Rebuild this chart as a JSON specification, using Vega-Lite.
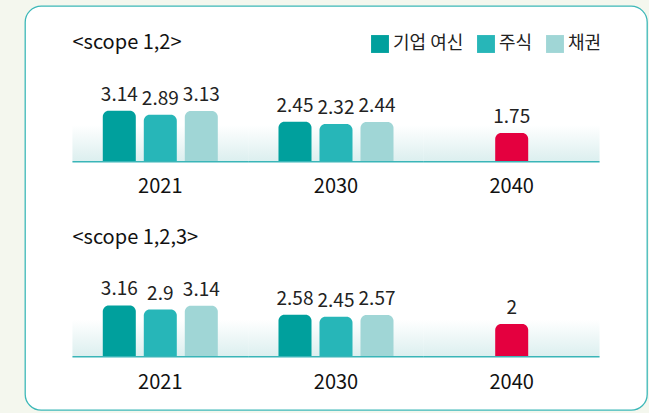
{
  "$schema": "https://vega.github.io/schema/vega-lite/v6.json",
  "width": 622,
  "height": 404,
  "autosize": {"type": "none"},
  "padding": {"left": 25, "top": 6, "right": 2, "bottom": 3},
  "background": "#f4f7ee",
  "config": {
    "view": {"fill": "white", "stroke": "#3db8b8", "strokeWidth": 1.3, "cornerRadius": 16},
    "font": "Noto Sans CJK KR",
    "text": {"font": "Noto Sans CJK KR"}
  },
  "datasets": {
    "s12": [
      {"year": "2021", "series": "기업 여신", "value": 3.14},
      {"year": "2021", "series": "주식", "value": 2.89},
      {"year": "2021", "series": "채권", "value": 3.13},
      {"year": "2030", "series": "기업 여신", "value": 2.45},
      {"year": "2030", "series": "주식", "value": 2.32},
      {"year": "2030", "series": "채권", "value": 2.44},
      {"year": "2040", "series": "목표", "value": 1.75}
    ],
    "s123": [
      {"year": "2021", "series": "기업 여신", "value": 3.16},
      {"year": "2021", "series": "주식", "value": 2.9},
      {"year": "2021", "series": "채권", "value": 3.14},
      {"year": "2030", "series": "기업 여신", "value": 2.58},
      {"year": "2030", "series": "주식", "value": 2.45},
      {"year": "2030", "series": "채권", "value": 2.57},
      {"year": "2040", "series": "목표", "value": 2}
    ],
    "years": [{"year": "2021"}, {"year": "2030"}, {"year": "2040"}]
  },
  "resolve": {"scale": {"y": "independent"}},
  "layer": [
    {
      "layer": [
        {
          "data": {"name": "years"},
          "mark": {"type": "bar", "color": {"gradient": "linear", "x1": 0, "y1": 1, "x2": 0, "y2": 0, "stops": [{"offset": 0, "color": "#dcefef"}, {"offset": 1, "color": "#ffffff"}]}},
          "encoding": {
            "x": {"field": "year", "type": "nominal", "axis": null, "scale": {"domain": ["2021", "2030", "2040"], "paddingInner": 0, "paddingOuter": 0.27}},
            "y": {"datum": 0, "type": "quantitative", "axis": null, "scale": {"domain": [-15.5625, 9.6875], "nice": false, "zero": false}},
            "y2": {"datum": 2.25}
          }
        },
        {
          "data": {"name": "years"},
          "mark": {"type": "bar", "color": "#3ab5b8"},
          "encoding": {
            "x": {"field": "year", "type": "nominal"},
            "y": {"datum": 0, "type": "quantitative"},
            "y2": {"datum": -0.1}
          }
        },
        {
          "data": {"name": "s12"},
          "transform": [{"filter": "datum.year != '2040'"}],
          "mark": {"type": "bar", "cornerRadiusTopLeft": 6, "cornerRadiusTopRight": 6},
          "encoding": {
            "x": {"field": "year", "type": "nominal"},
            "xOffset": {"field": "series", "type": "nominal", "scale": {"paddingInner": 0.195, "paddingOuter": 0.74}},
            "y": {"field": "value", "type": "quantitative"},
            "y2": {"datum": 0},
            "color": {"field": "series", "type": "nominal", "scale": {"domain": ["기업 여신", "주식", "채권"], "range": ["#00a09d", "#27b6b8", "#a0d6d6"]},
              "legend": {"title": null, "orient": "none", "legendX": 346, "legendY": 29, "direction": "horizontal", "symbolType": "square", "symbolSize": 320, "symbolStrokeWidth": 0, "symbolOpacity": 1, "labelFontSize": 18, "labelColor": "#222", "labelFont": "Noto Sans CJK KR", "labelOffset": 4, "columnPadding": 13}}
          }
        },
        {
          "data": {"name": "s12"},
          "transform": [{"filter": "datum.year != '2040'"}],
          "mark": {"type": "text", "fontSize": 19, "color": "#222", "baseline": "alphabetic", "dy": -10},
          "encoding": {
            "x": {"field": "year", "type": "nominal"},
            "xOffset": {"field": "series", "type": "nominal"},
            "y": {"field": "value", "type": "quantitative"},
            "text": {"field": "value", "type": "nominal"}
          }
        },
        {
          "data": {"name": "s12"},
          "transform": [{"filter": "datum.year == '2040'"}],
          "mark": {"type": "bar", "width": 33, "color": "#e4003f", "cornerRadiusTopLeft": 6, "cornerRadiusTopRight": 6},
          "encoding": {
            "x": {"field": "year", "type": "nominal"},
            "y": {"field": "value", "type": "quantitative"},
            "y2": {"datum": 0}
          }
        },
        {
          "data": {"name": "s12"},
          "transform": [{"filter": "datum.year == '2040'"}],
          "mark": {"type": "text", "fontSize": 19, "color": "#222", "baseline": "alphabetic", "dy": -10},
          "encoding": {
            "x": {"field": "year", "type": "nominal"},
            "y": {"field": "value", "type": "quantitative"},
            "text": {"field": "value", "type": "nominal"}
          }
        },
        {
          "data": {"name": "years"},
          "mark": {"type": "text", "fontSize": 20, "color": "#111", "baseline": "middle", "dy": 26},
          "encoding": {
            "x": {"field": "year", "type": "nominal"},
            "y": {"datum": 0, "type": "quantitative"},
            "text": {"field": "year", "type": "nominal"}
          }
        },
        {
          "data": {"values": [{"t": "<scope 1,2>"}]},
          "mark": {"type": "text", "fontSize": 20, "color": "#111", "align": "left", "baseline": "middle"},
          "encoding": {
            "x": {"datum": "2021", "type": "nominal", "bandPosition": 0},
            "y": {"datum": 7.375, "type": "quantitative"},
            "text": {"field": "t", "type": "nominal"}
          }
        }
      ]
    },
    {
      "layer": [
        {
          "data": {"name": "years"},
          "mark": {"type": "bar", "color": {"gradient": "linear", "x1": 0, "y1": 1, "x2": 0, "y2": 0, "stops": [{"offset": 0, "color": "#dcefef"}, {"offset": 1, "color": "#ffffff"}]}},
          "encoding": {
            "x": {"field": "year", "type": "nominal"},
            "y": {"datum": 0, "type": "quantitative", "axis": null, "scale": {"domain": [-3.375, 21.875], "nice": false, "zero": false}},
            "y2": {"datum": 2.25}
          }
        },
        {
          "data": {"name": "years"},
          "mark": {"type": "bar", "color": "#3ab5b8"},
          "encoding": {
            "x": {"field": "year", "type": "nominal"},
            "y": {"datum": 0, "type": "quantitative"},
            "y2": {"datum": -0.1}
          }
        },
        {
          "data": {"name": "s123"},
          "transform": [{"filter": "datum.year != '2040'"}],
          "mark": {"type": "bar", "cornerRadiusTopLeft": 6, "cornerRadiusTopRight": 6},
          "encoding": {
            "x": {"field": "year", "type": "nominal"},
            "xOffset": {"field": "series", "type": "nominal"},
            "y": {"field": "value", "type": "quantitative"},
            "y2": {"datum": 0},
            "color": {"field": "series", "type": "nominal"}
          }
        },
        {
          "data": {"name": "s123"},
          "transform": [{"filter": "datum.year != '2040'"}],
          "mark": {"type": "text", "fontSize": 19, "color": "#222", "baseline": "alphabetic", "dy": -10},
          "encoding": {
            "x": {"field": "year", "type": "nominal"},
            "xOffset": {"field": "series", "type": "nominal"},
            "y": {"field": "value", "type": "quantitative"},
            "text": {"field": "value", "type": "nominal"}
          }
        },
        {
          "data": {"name": "s123"},
          "transform": [{"filter": "datum.year == '2040'"}],
          "mark": {"type": "bar", "width": 33, "color": "#e4003f", "cornerRadiusTopLeft": 6, "cornerRadiusTopRight": 6},
          "encoding": {
            "x": {"field": "year", "type": "nominal"},
            "y": {"field": "value", "type": "quantitative"},
            "y2": {"datum": 0}
          }
        },
        {
          "data": {"name": "s123"},
          "transform": [{"filter": "datum.year == '2040'"}],
          "mark": {"type": "text", "fontSize": 19, "color": "#222", "baseline": "alphabetic", "dy": -10},
          "encoding": {
            "x": {"field": "year", "type": "nominal"},
            "y": {"field": "value", "type": "quantitative"},
            "text": {"field": "value", "type": "nominal"}
          }
        },
        {
          "data": {"name": "years"},
          "mark": {"type": "text", "fontSize": 20, "color": "#111", "baseline": "middle", "dy": 27},
          "encoding": {
            "x": {"field": "year", "type": "nominal"},
            "y": {"datum": 0, "type": "quantitative"},
            "text": {"field": "year", "type": "nominal"}
          }
        },
        {
          "data": {"values": [{"t": "<scope 1,2,3>"}]},
          "mark": {"type": "text", "fontSize": 20, "color": "#111", "align": "left", "baseline": "middle"},
          "encoding": {
            "x": {"datum": "2021", "type": "nominal", "bandPosition": 0},
            "y": {"datum": 7.375, "type": "quantitative"},
            "text": {"field": "t", "type": "nominal"}
          }
        }
      ]
    }
  ]
}
